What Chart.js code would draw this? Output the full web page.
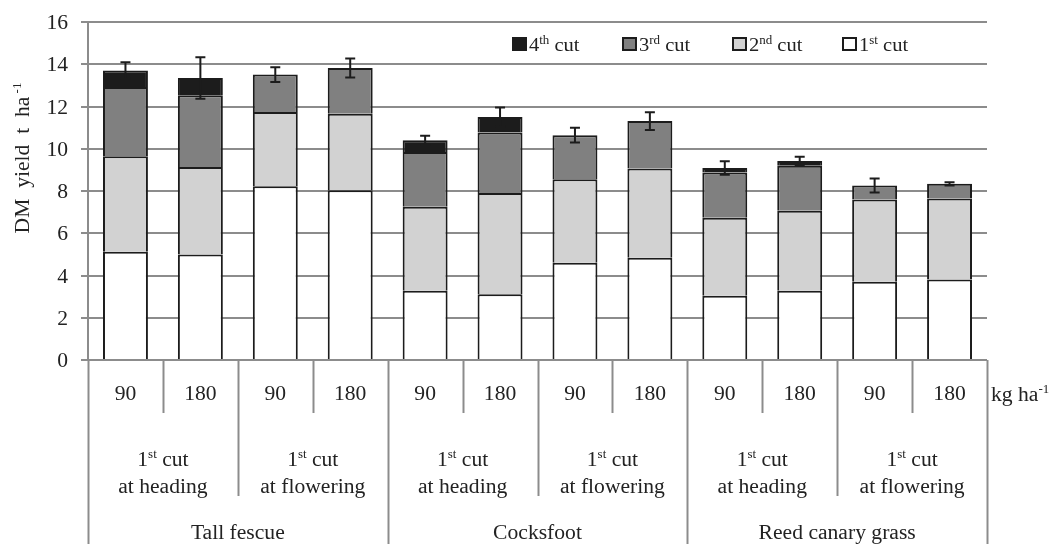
<!DOCTYPE html>
<html>
<head>
<meta charset="utf-8">
<script src="https://cdn.jsdelivr.net/npm/chart.js@4.4.1/dist/chart.umd.min.js"></script>
<style>
    html, body { margin: 0; padding: 0; background: #fff; }
</style>
</head>
<body>
<canvas id="yieldChart" width="1054" height="544"></canvas>
<script>
// N rate, harvest regime and species for each bar
const rates = ['90', '180', '90', '180', '90', '180', '90', '180', '90', '180', '90', '180'];
const regimes = ['at heading', 'at flowering', 'at heading', 'at flowering', 'at heading', 'at flowering'];
const species = ['Tall fescue', 'Cocksfoot', 'Reed canary grass'];

// DM yield per cut, t ha-1
const cut1 = [5.12, 5.00, 8.23, 8.04, 3.28, 3.11, 4.60, 4.84, 3.04, 3.28, 3.70, 3.81];
const cut2 = [4.53, 4.14, 3.51, 3.62, 3.97, 4.80, 3.96, 4.22, 3.69, 3.78, 3.90, 3.84];
const cut3 = [3.27, 3.39, 1.77, 2.16, 2.60, 2.86, 2.08, 2.25, 2.15, 2.13, 0.66, 0.69];
const cut4 = [0.78, 0.82, null, null, 0.55, 0.73, null, null, 0.21, 0.23, null, null];
const totalErr = [0.39, 0.98, 0.35, 0.45, 0.22, 0.45, 0.35, 0.42, 0.32, 0.20, 0.33, 0.08];

const yTicks = [0, 2, 4, 6, 8, 10, 12, 14, 16];

const FONT = '"Liberation Serif", "Times New Roman", serif';
const TEXT = '#222';
const GRID = '#8c8c8c';
const EDGE = '#1c1c1c';
const STRETCH = 1.08; // source text is a bit wider than Times

// draw text with ^{...} superscripts
function drawRich(ctx, str, x, y, size, align) {
    const parts = str.split(/(\^\{[^}]*\})/).filter(p => p.length);
    const pieces = parts.map(p => {
        const sup = p.startsWith('^{');
        return { t: sup ? p.slice(2, -1) : p, sup: sup };
    });
    let w = 0;
    pieces.forEach(p => {
        ctx.font = (p.sup ? Math.round(size * 0.62) : size) + 'px ' + FONT;
        p.w = ctx.measureText(p.t).width;
        w += p.w;
    });
    ctx.save();
    ctx.translate(x, y);
    ctx.scale(STRETCH, 1);
    let cx = align === 'center' ? -w / 2 : align === 'right' ? -w : 0;
    ctx.textBaseline = 'alphabetic';
    ctx.textAlign = 'left';
    pieces.forEach(p => {
        ctx.font = (p.sup ? Math.round(size * 0.62) : size) + 'px ' + FONT;
        ctx.fillText(p.t, cx, p.sup ? -size * 0.38 : 0);
        cx += p.w;
    });
    ctx.restore();
}

// error bars on top of each stack
const errorBars = {
    id: 'errorBars',
    afterDatasetsDraw(chart) {
        const { ctx, scales: { x, y } } = chart;
        ctx.save();
        ctx.strokeStyle = EDGE;
        ctx.lineWidth = 2;
        rates.forEach((r, i) => {
            const total = cut1[i] + cut2[i] + cut3[i] + (cut4[i] || 0);
            const px = x.getPixelForValue(i);
            const top = y.getPixelForValue(total + totalErr[i]);
            const bot = y.getPixelForValue(total - totalErr[i]);
            ctx.beginPath();
            ctx.moveTo(px, top); ctx.lineTo(px, bot);
            ctx.moveTo(px - 5, top); ctx.lineTo(px + 5, top);
            ctx.moveTo(px - 5, bot); ctx.lineTo(px + 5, bot);
            ctx.stroke();
        });
        ctx.restore();
    }
};

// category table under the plot, tick labels, legend and axis titles
const tableAxis = {
    id: 'tableAxis',
    afterDraw(chart) {
        const { ctx, chartArea, scales: { x, y } } = chart;
        const H = chart.height;
        const edge = k => k === 0 ? chartArea.left : k === rates.length ? chartArea.right
            : (x.getPixelForValue(k - 1) + x.getPixelForValue(k)) / 2;
        ctx.save();
        ctx.strokeStyle = GRID;
        ctx.lineWidth = 2;
        for (let k = 0; k <= rates.length; k++) {
            const len = k % 4 === 0 ? H : k % 2 === 0 ? 496 : 413;
            const ex = Math.round(edge(k)) + 0.5;
            ctx.beginPath();
            ctx.moveTo(ex, chartArea.bottom); ctx.lineTo(ex, len);
            ctx.stroke();
        }
        ctx.fillStyle = TEXT;
        yTicks.forEach(v => drawRich(ctx, String(v), 68, y.getPixelForValue(v) + 7, 20, 'right'));
        rates.forEach((r, i) => drawRich(ctx, r, x.getPixelForValue(i), 400, 20, 'center'));
        regimes.forEach((r, j) => {
            const cx = (edge(j * 2) + edge(j * 2 + 2)) / 2;
            drawRich(ctx, '1^{st} cut', cx, 466, 20, 'center');
            drawRich(ctx, r, cx, 493, 20, 'center');
        });
        species.forEach((s, j) => {
            const cx = (edge(j * 4) + edge(j * 4 + 4)) / 2;
            drawRich(ctx, s, cx, 539, 20, 'center');
        });
        drawRich(ctx, 'kg ha^{-1}', chartArea.right + 4, 401, 20, 'left');

        // y title
        ctx.save();
        ctx.translate(29, 158);
        ctx.rotate(-Math.PI / 2);
        drawRich(ctx, 'DM  yield  t  ha^{ -1}', 0, 0, 20, 'center');
        ctx.restore();

        // legend, reversed order
        const sets = chart.data.datasets.slice().reverse();
        let lx = 513;
        sets.forEach(ds => {
            ctx.fillStyle = ds.backgroundColor;
            ctx.fillRect(lx, 38, 13, 12);
            ctx.strokeStyle = EDGE;
            ctx.lineWidth = 2;
            ctx.strokeRect(lx, 38, 13, 12);
            ctx.fillStyle = TEXT;
            drawRich(ctx, ds.label, lx + 16, 51, 19, 'left');
            lx += 110;
        });
        ctx.restore();
    }
};

function makeSet(label, data, color) {
    return {
        label: label,
        data: data,
        backgroundColor: color,
        borderColor: EDGE,
        borderWidth: 2,
        categoryPercentage: 1,
        barPercentage: 0.6
    };
}

const chart = new Chart(document.getElementById('yieldChart'), {
    type: 'bar',
    data: {
        labels: rates,
        datasets: [
            makeSet('1^{st} cut', cut1, '#ffffff'),
            makeSet('2^{nd} cut', cut2, '#d2d2d2'),
            makeSet('3^{rd} cut', cut3, '#808080'),
            makeSet('4^{th} cut', cut4, '#1c1c1c')
        ]
    },
    options: {
        responsive: false,
        animation: false,
        layout: { padding: { top: 22, bottom: 184, left: 0, right: 67 } },
        plugins: { legend: { display: false }, tooltip: { enabled: false } },
        scales: {
            x: { stacked: true, display: false },
            y: {
                stacked: true,
                min: 0,
                max: 16,
                afterBuildTicks: scale => { scale.ticks = yTicks.map(v => ({ value: v })); },
                afterFit: scale => { scale.width = 88; },
                ticks: { display: false },
                grid: { color: GRID, lineWidth: 2, tickLength: 7 },
                border: { color: GRID, width: 2 }
            }
        }
    },
    plugins: [errorBars, tableAxis]
});
</script>
</body>
</html>
